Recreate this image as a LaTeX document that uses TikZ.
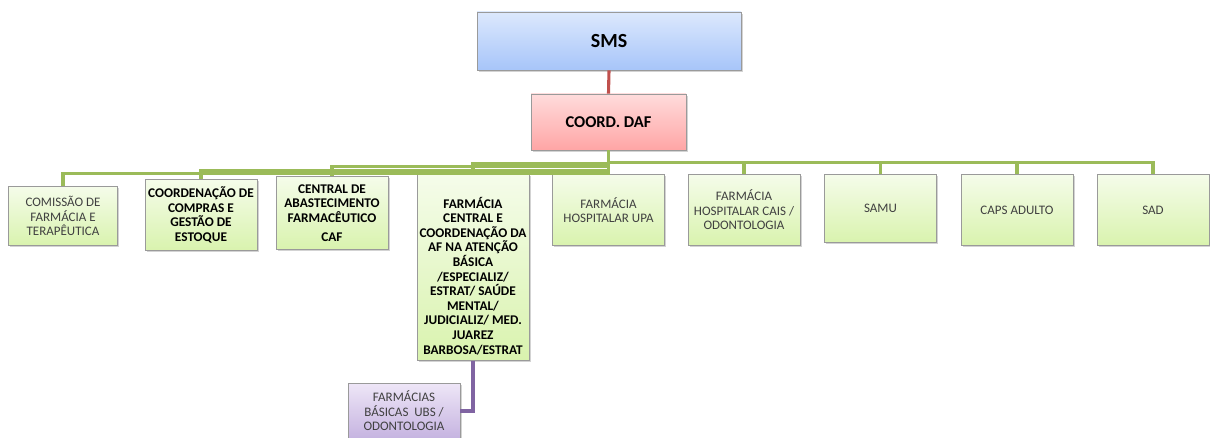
\documentclass[tikz,border=0pt]{standalone}
\usepackage{fontspec}
\setmainfont{Carlito}
\usetikzlibrary{shadows}

\definecolor{boxline}{HTML}{9A9A9A}
\definecolor{smstop}{HTML}{DCE8FD}
\definecolor{smsbot}{HTML}{A7C5F9}
\definecolor{daftop}{HTML}{FFDCDC}
\definecolor{dafbot}{HTML}{FFA5A5}
\definecolor{unittop}{HTML}{F5FCEA}
\definecolor{unitbot}{HTML}{D9F3AE}
\definecolor{ubstop}{HTML}{EEE6F7}
\definecolor{ubsbot}{HTML}{C5B3E0}
\definecolor{linkgreen}{HTML}{9BBB59}
\definecolor{linkred}{HTML}{C0504D}
\definecolor{linkpurple}{HTML}{8064A2}
\definecolor{softtext}{HTML}{404040}

\begin{document}
\begin{tikzpicture}[%
    x=1pt, y=-1pt,              % work in pixel units of the chart, y going down
    font=\fontsize{13}{14.5}\selectfont,
    ]
% -------------------------------------------------
% Box and connector styles
\tikzset{
  base/.style={draw=boxline, line width=0.8pt, align=center, inner sep=2pt,
    drop shadow={shadow xshift=1.8pt, shadow yshift=-1.8pt, opacity=0.35}},
  head/.style={base, font=\fontsize{20}{22}\selectfont\bfseries,
    top color=smstop, bottom color=smsbot},
  coord/.style={base, font=\fontsize{16.5}{18}\selectfont\bfseries,
    top color=daftop, bottom color=dafbot},
  unit/.style={base, anchor=north, minimum width=112pt, minimum height=71pt,
    top color=unittop, bottom color=unitbot, text=softtext},
  bunit/.style={unit, text=black, font=\fontsize{13.3}{14.6}\selectfont\bfseries},
  sub/.style={base, minimum width=112pt, minimum height=56pt,
    top color=ubstop, bottom color=ubsbot, text=softtext},
  % Connector line styles
  glink/.style={draw=linkgreen, line width=3.1pt},
  rlink/.style={draw=linkred, line width=3.1pt},
  plink/.style={draw=linkpurple, line width=3.1pt},
}
\useasboundingbox (0,0) rectangle (1210,438);
% -------------------------------------------------
% Top of the chart
\node [head, minimum width=264pt, minimum height=58pt] (sms) at (609,41) {SMS};
\node [coord, minimum width=155pt, minimum height=56pt] (daf) at (608.5,122) {COORD. DAF};

% Units below the coordination
\node [unit, minimum width=109pt, minimum height=59pt] (c1) at (63,186)
  {COMISSÃO DE\\FARMÁCIA E\\TERAPÊUTICA};
\node [bunit] (c2) at (201,179) {COORDENAÇÃO DE\\COMPRAS E\\GESTÃO DE\\ESTOQUE};
\node [bunit, minimum height=73pt] (c3) at (332,176)
  {CENTRAL DE\\ABASTECIMENTO\\FARMACÊUTICO\\[4pt]CAF};
\node [bunit, minimum height=186pt] (c4) at (473,174)
  {\rule{0pt}{28pt}FARMÁCIA\\CENTRAL E\\COORDENAÇÃO DA\\AF NA ATENÇÃO\\BÁSICA\\/ESPECIALIZ/\\
   ESTRAT/ SAÚDE\\MENTAL/\\JUDICIALIZ/ MED.\\JUAREZ\\BARBOSA/ESTRAT};
\node [unit] (c5) at (608.5,174) {FARMÁCIA\\HOSPITALAR UPA};
\node [unit] (c6) at (744,174) {FARMÁCIA\\HOSPITALAR CAIS /\\ODONTOLOGIA};
\node [unit, minimum height=68pt] (c7) at (880.5,174) {SAMU};
\node [unit] (c8) at (1017,174) {CAPS ADULTO};
\node [unit] (c9) at (1153,174) {SAD};

% Unit under the central pharmacy
\node [sub] (ubs) at (404,411) {FARMÁCIAS\\BÁSICAS~ UBS /\\ODONTOLOGIA};

% -------------------------------------------------
% Connectors
\draw [rlink] (sms.south) -- (daf.north);

\draw [glink] (daf.south) -- ++(0,23.5) -| (c1.north);
\draw [glink] (daf.south) -- ++(0,20) -| (c2.north);
\draw [glink] (daf.south) -- ++(0,16.5) -| (c3.north);
\draw [glink] (daf.south) -- ++(0,13) -| (c4.north);
\draw [glink] (daf.south) -- (c5.north);
\draw [glink] (daf.south) -- ++(0,12) -| (c6.north);
\draw [glink] (daf.south) -- ++(0,12) -| (c7.north);
\draw [glink] (daf.south) -- ++(0,12) -| (c8.north);
\draw [glink] (daf.south) -- ++(0,12) -| (c9.north);

\draw [plink] (c4.south) |- (ubs.east);
% -------------------------------------------------
\end{tikzpicture}
\end{document}
